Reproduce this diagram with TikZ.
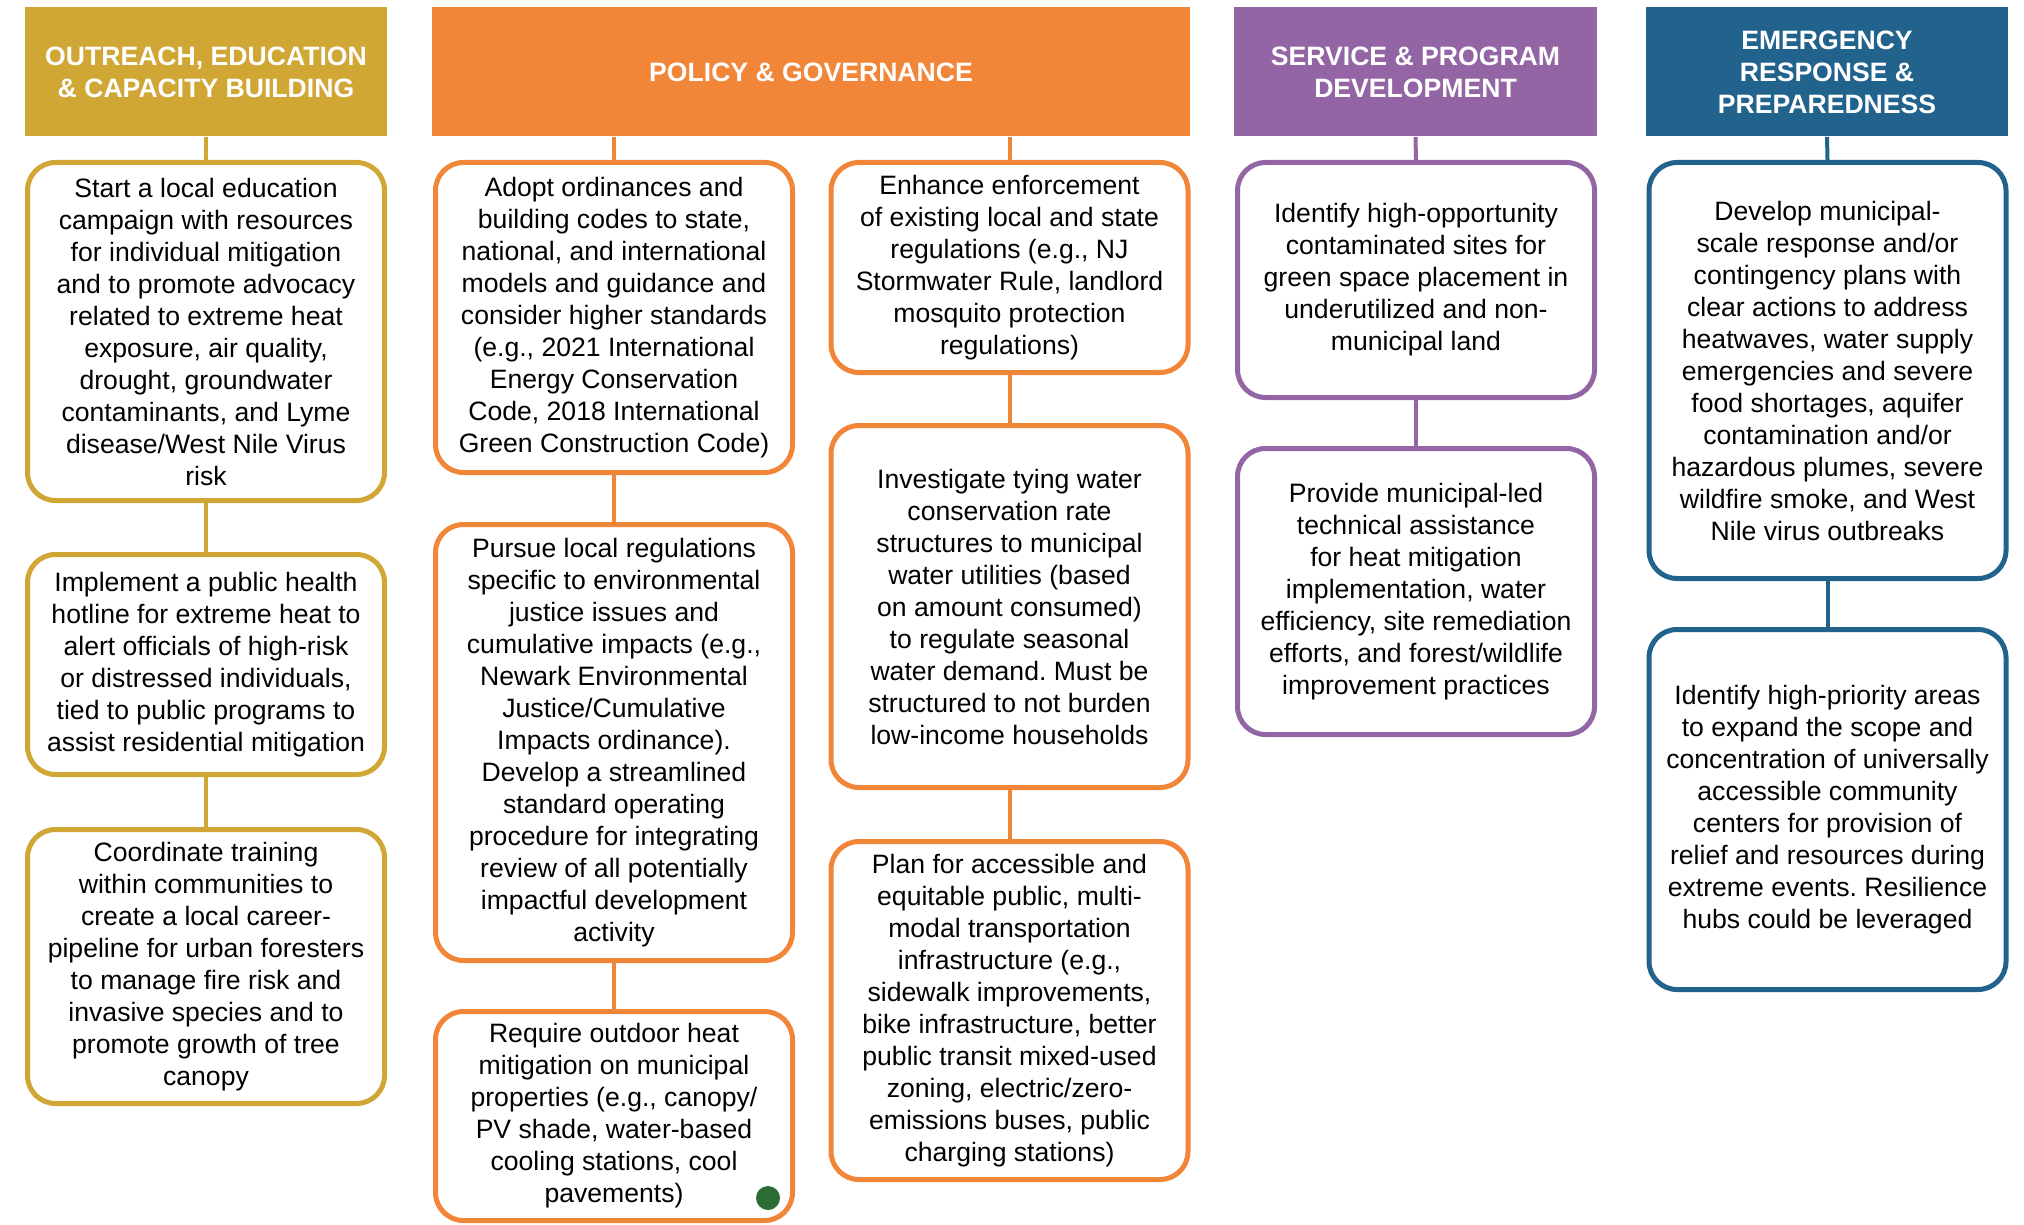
\documentclass[tikz,border=0pt]{standalone}
\usepackage{fontspec}
\setmainfont{Liberation Sans}
\definecolor{cgold}{HTML}{D0A634}
\definecolor{corange}{HTML}{F28638}
\definecolor{cpurple}{HTML}{9365A5}
\definecolor{cblue}{HTML}{22638E}
\definecolor{cgreen}{HTML}{2D6B34}
\newcommand\bodyfnt{\fontsize{13.3}{16}\selectfont\frenchspacing}
\newcommand\headfnt{\fontsize{13.3}{16}\selectfont\bfseries}
\begin{document}
\begin{tikzpicture}[x=0.5pt,y=-0.5pt,
  head/.style={fill=#1, draw=none, text=white, font=\headfnt, align=center, inner sep=0pt, minimum height=64.5pt},
  card/.style={draw=#1, line width=2.5pt, rounded corners=14pt, fill=white, align=center, font=\bodyfnt, inner sep=0pt, minimum width=178.5pt, text=black},
  link/.style={draw=#1, line width=2pt}]
\useasboundingbox (0,0) rectangle (2024,1225);
% headers
\node[head=cgold, minimum width=181pt] (h1) at (206,72) {OUTREACH, EDUCATION\\\& CAPACITY BUILDING};
\node[head=corange, minimum width=379pt] (h2) at (811,72) {POLICY \& GOVERNANCE};
\node[head=cpurple, minimum width=181.5pt] (h3) at (1415.5,72) {SERVICE \& PROGRAM\\DEVELOPMENT};
\node[head=cblue, minimum width=181pt] (h4) at (1827,72) {EMERGENCY\\RESPONSE \&\\PREPAREDNESS};
% column 1
\node[card=cgold, minimum height=169pt] (a1) at (206,331.5) {Start a local education\\campaign with resources\\for individual mitigation\\and to promote advocacy\\related to extreme heat\\exposure, air quality,\\drought, groundwater\\contaminants, and Lyme\\disease/West Nile Virus\\risk};
\node[card=cgold, minimum height=110pt] (a2) at (206,664.5) {Implement a public health\\hotline for extreme heat to\\alert officials of high-risk\\or distressed individuals,\\tied to public programs to\\assist residential mitigation};
\node[card=cgold, minimum height=137pt] (a3) at (206,966.5) {Coordinate training\\within communities to\\create a local career-\\pipeline for urban foresters\\to manage fire risk and\\invasive species and to\\promote growth of tree\\canopy};
% column 2a
\node[card=corange, minimum height=155pt] (b1) at (614,317.5) {Adopt ordinances and\\building codes to state,\\national, and international\\models and guidance and\\consider higher standards\\(e.g., 2021 International\\Energy Conservation\\Code, 2018 International\\Green Construction Code)};
\node[card=corange, minimum height=218pt] (b2) at (614,742.5) {Pursue local regulations\\specific to environmental\\justice issues and\\cumulative impacts (e.g.,\\Newark Environmental\\Justice/Cumulative\\Impacts ordinance).\\Develop a streamlined\\standard operating\\procedure for integrating\\review of all potentially\\impactful development\\activity};
\node[card=corange, minimum height=104.5pt] (b3) at (614,1116) {Require outdoor heat\\mitigation on municipal\\properties (e.g., canopy/\\PV shade, water-based\\cooling stations, cool\\pavements)};
% column 2b
\node[card=corange, minimum height=105pt] (c1) at (1009.5,267.5) {Enhance enforcement\\of existing local and state\\regulations (e.g., NJ\\Stormwater Rule, landlord\\mosquito protection\\regulations)};
\node[card=corange, minimum height=181pt] (c2) at (1009.5,606.5) {Investigate tying water\\conservation rate\\structures to municipal\\water utilities (based\\on amount consumed)\\to regulate seasonal\\water demand. Must be\\structured to not burden\\low-income households};
\node[card=corange, minimum height=169pt] (c3) at (1009.5,1010.5) {Plan for accessible and\\equitable public, multi-\\modal transportation\\infrastructure (e.g.,\\sidewalk improvements,\\bike infrastructure, better\\public transit mixed-used\\zoning, electric/zero-\\emissions buses, public\\charging stations)};
% column 3
\node[card=cpurple, minimum height=117.5pt] (d1) at (1416,280) {Identify high-opportunity\\contaminated sites for\\green space placement in\\underutilized and non-\\municipal land};
\node[card=cpurple, minimum height=143pt] (d2) at (1416,591.5) {Provide municipal-led\\technical assistance\\for heat mitigation\\implementation, water\\efficiency, site remediation\\efforts, and forest/wildlife\\improvement practices};
% column 4
\node[card=cblue, minimum height=208pt] (e1) at (1827.5,370.5) {Develop municipal-\\scale response and/or\\contingency plans with\\clear actions to address\\heatwaves, water supply\\emergencies and severe\\food shortages, aquifer\\contamination and/or\\hazardous plumes, severe\\wildfire smoke, and West\\Nile virus outbreaks};
\node[card=cblue, minimum height=180pt] (e2) at (1827.5,809.5) {Identify high-priority areas\\to expand the scope and\\concentration of universally\\accessible community\\centers for provision of\\relief and resources during\\extreme events. Resilience\\hubs could be leveraged};
% green dot
\node[circle, fill=cgreen, minimum size=12pt, inner sep=0pt] (dot) at (768,1198) {};
% connectors
\draw[link=cgold] (h1.south) -- (a1.north);
\draw[link=cgold] (a1.south) -- (a2.north);
\draw[link=cgold] (a2.south) -- (a3.north);
\draw[link=corange] (h2.south -| b1.north) -- (b1.north);
\draw[link=corange] (h2.south -| c1.north) -- (c1.north);
\draw[link=corange] (b1.south) -- (b2.north);
\draw[link=corange] (b2.south) -- (b3.north);
\draw[link=corange] (c1.south) -- (c2.north);
\draw[link=corange] (c2.south) -- (c3.north);
\draw[link=cpurple] (h3.south) -- (d1.north);
\draw[link=cpurple] (d1.south) -- (d2.north);
\draw[link=cblue] (h4.south) -- (e1.north);
\draw[link=cblue] (e1.south) -- (e2.north);
\end{tikzpicture}
\end{document}
